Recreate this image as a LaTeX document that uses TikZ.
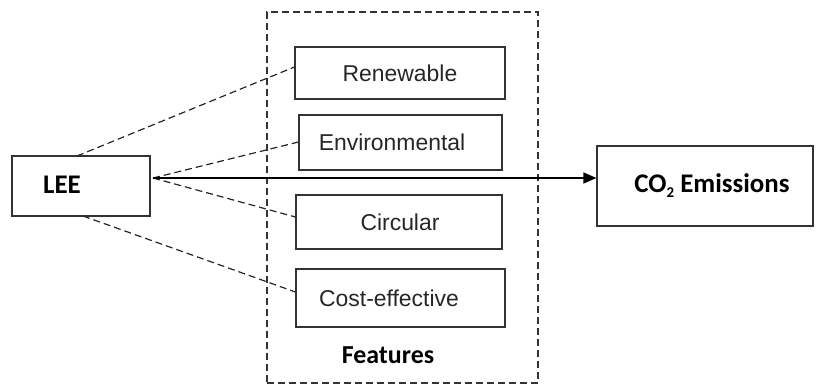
\documentclass[tikz,border=0pt]{standalone}
\usepackage{fontspec}
\setmainfont{Liberation Sans}
\newfontfamily\boldfont{Carlito}
\usetikzlibrary{arrows.meta}
\begin{document}
\begin{tikzpicture}[x=1bp,y=-1bp,
  box/.style={draw=black!80,line width=1.2bp,rectangle,inner sep=0pt},
  feat/.style={font=\fontsize{23}{26}\selectfont,text=black!85},
  bold/.style={font=\boldfont\bfseries\fontsize{27}{30}\selectfont},
  link/.style={draw=black!85,line width=1.2bp,dash pattern=on 7bp off 4bp}]
\useasboundingbox (0,0) rectangle (817,386);
% frame
\node[box,dash pattern=on 7bp off 4bp,minimum width=271bp,minimum height=371bp] (frame) at (402.5,197.5) {};
% LEE
\node[box,minimum width=138bp,minimum height=60bp] (lee) at (81,186) {};
\node[bold] (leet) at (62,185) {LEE};
% feature boxes
\node[box,minimum width=210bp,minimum height=52bp] (ren) at (400,73) {};
\node[feat] (rent) at (400,73) {Renewable};
\node[box,minimum width=203bp,minimum height=55bp] (env) at (400.5,142.5) {};
\node[feat] (envt) at (392,142.5) {Environmental};
\node[box,minimum width=206bp,minimum height=54bp] (cir) at (399,222) {};
\node[feat] (cirt) at (400,222) {Circular};
\node[box,minimum width=209bp,minimum height=58bp] (cost) at (400.5,298) {};
\node[feat] (costt) at (389,298) {Cost-effective};
\node[bold,font=\boldfont\bfseries\fontsize{26}{30}\selectfont] (featt) at (388,355) {Features};
% CO2
\node[box,minimum width=216bp,minimum height=80bp] (co2) at (705,186) {};
\node[bold] (co2t) at (712,186) {CO\raisebox{-5bp}{\fontsize{15}{16}\selectfont 2} Emissions};
% connector anchors on LEE
\coordinate (ltop) at (77,156);
\coordinate (lmid) at (153,178);
\coordinate (lbot) at (83,216);
% dashed links
\draw[link] (ltop) -- (ren.west|-0,67);
\draw[link] (lmid) -- (env.west|-0,142);
\draw[link] (lmid) -- (cir.west|-0,217);
\draw[link] (lbot) -- (cost.west|-0,292);
% arrow
\draw[line width=1.4bp,-{Triangle[length=13bp,width=11bp]}] (lmid) -- (co2.west|-lmid);
\end{tikzpicture}
\end{document}
